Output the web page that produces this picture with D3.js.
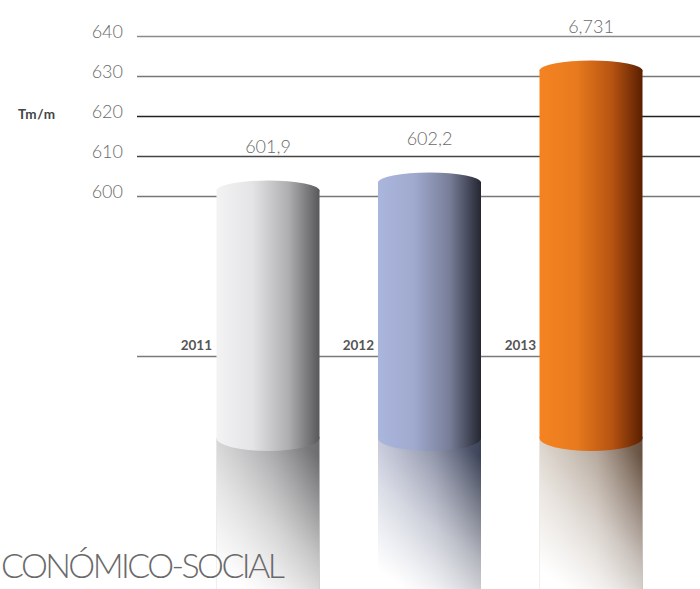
<!DOCTYPE html>
<html>
<head>
<meta charset="utf-8">
<script src="https://cdn.jsdelivr.net/npm/d3@7"></script>
<style>
  body { margin: 0; background: #fff; }
  svg { display: block; }
</style>
</head>
<body>
<script>
// data
var years = ["2011", "2012", "2013"];
var valueLabels = ["601,9", "602,2", "6,731"];
// where each cylinder top sits against the axis (the drawing is not to scale)
var barLevels = [601.5, 603.5, 631.5];
var tickValues = [600, 610, 620, 630, 640];
var baseLevel = 560;   // line carrying the year labels
var floorLevel = 540;  // foot of the cylinders
var unitLabel = "Tm/m";
var footerText = "CONÓMICO-SOCIAL";

var width = 700, height = 589;
var barWidth = 103;

var svg = d3.select("body").append("svg")
    .attr("width", width)
    .attr("height", height);

var yScale = d3.scaleLinear()
    .domain([floorLevel, 640])
    .range([436.5, 36.5]);

var xScale = d3.scalePoint()
    .domain(years)
    .range([268, 591]);

// year labels sit just left of each cylinder
var yearScale = d3.scalePoint()
    .domain(years)
    .range([212, 536]);

// gradients
var barColors = [
    ["#f3f3f4", "#e4e4e6", "#aeaeb1", "#58585b"],
    ["#abb6dd", "#a0aacf", "#777d97", "#242631"],
    ["#f58321", "#e97b1e", "#b75412", "#5a1f00"]
];
var reflColors = [
    ["#c2c2c4", "#9a9a9c", "#6c6c6e"],
    ["#a9afc7", "#7a8099", "#3c4256"],
    ["#cbc0b3", "#a8988a", "#665040"]
];

var defs = svg.append("defs");
barColors.forEach(function(c, i) {
    var g = defs.append("linearGradient")
        .attr("id", "bar" + i)
        .attr("x1", 0).attr("x2", 1).attr("y1", 0).attr("y2", 0);
    [0, 0.35, 0.7, 1].forEach(function(o, j) {
        g.append("stop").attr("offset", o).attr("stop-color", c[j]);
    });
});
reflColors.forEach(function(c, i) {
    var g = defs.append("linearGradient")
        .attr("id", "refl" + i)
        .attr("x1", 0).attr("x2", 1).attr("y1", 0).attr("y2", 0);
    [0, 0.55, 1].forEach(function(o, j) {
        g.append("stop").attr("offset", o).attr("stop-color", c[j]);
    });
});
var fade = defs.append("linearGradient")
    .attr("id", "fade")
    .attr("x1", 0.75).attr("y1", 0).attr("x2", 0.25).attr("y2", 1);
fade.append("stop").attr("offset", 0).attr("stop-color", "#fff").attr("stop-opacity", 0);
fade.append("stop").attr("offset", 0.55).attr("stop-color", "#fff").attr("stop-opacity", 0.6);
fade.append("stop").attr("offset", 1).attr("stop-color", "#fff").attr("stop-opacity", 1);

// grid lines
var gridColors = { 640: "#8a8a8a", 630: "#777", 620: "#222", 610: "#444", 600: "#777" };
svg.append("g").selectAll("line")
    .data(tickValues.concat([baseLevel]))
    .enter().append("line")
    .attr("x1", 137).attr("x2", width)
    .attr("y1", function(d) { return yScale(d); })
    .attr("y2", function(d) { return yScale(d); })
    .attr("stroke", function(d) { return gridColors[d] || "#7a7a7a"; })
    .attr("stroke-width", 1.3);

// tick labels
svg.append("g").selectAll("text")
    .data(tickValues)
    .enter().append("text")
    .attr("x", 123)
    .attr("y", function(d) { return yScale(d) + 1.5; })
    .attr("text-anchor", "end")
    .attr("font-family", "Lato")
    .attr("font-weight", 300)
    .attr("font-size", 18)
    .attr("fill", "#6a6a6a")
    .text(function(d) { return d; });

svg.append("text")
    .attr("x", 18).attr("y", 119)
    .attr("font-family", "Lato")
    .attr("font-weight", 700)
    .attr("font-size", 13.5)
    .attr("letter-spacing", 0.6)
    .attr("fill", "#444")
    .text(unitLabel);

// year labels
svg.append("g").selectAll("text")
    .data(years)
    .enter().append("text")
    .attr("x", function(d) { return yearScale(d); })
    .attr("y", yScale(baseLevel) - 6.5)
    .attr("text-anchor", "end")
    .attr("font-family", "Lato")
    .attr("font-weight", 700)
    .attr("font-size", 13.5)
    .attr("fill", "#555")
    .text(function(d) { return d; });

// reflections
var footY = yScale(floorLevel) + 1.5;
var refl = svg.append("g").selectAll("g")
    .data(years)
    .enter().append("g");
refl.append("rect")
    .attr("x", function(d) { return xScale(d) - barWidth / 2; })
    .attr("y", footY)
    .attr("width", barWidth)
    .attr("height", height - footY)
    .attr("fill", function(d, i) { return "url(#refl" + i + ")"; });
refl.append("rect")
    .attr("x", function(d) { return xScale(d) - barWidth / 2; })
    .attr("y", footY)
    .attr("width", barWidth)
    .attr("height", height - footY)
    .attr("fill", "url(#fade)");

// cylinders
var bars = svg.append("g").selectAll("g")
    .data(years)
    .enter().append("g");
bars.append("rect")
    .attr("x", function(d) { return xScale(d) - barWidth / 2; })
    .attr("y", function(d, i) { return yScale(barLevels[i]); })
    .attr("width", barWidth)
    .attr("height", function(d, i) { return footY - yScale(barLevels[i]); })
    .attr("fill", function(d, i) { return "url(#bar" + i + ")"; });
bars.append("ellipse")
    .attr("cx", function(d) { return xScale(d); })
    .attr("cy", footY)
    .attr("rx", barWidth / 2)
    .attr("ry", 13)
    .attr("fill", function(d, i) { return "url(#bar" + i + ")"; });
bars.append("ellipse")
    .attr("cx", function(d) { return xScale(d); })
    .attr("cy", function(d, i) { return yScale(barLevels[i]); })
    .attr("rx", barWidth / 2)
    .attr("ry", 10)
    .attr("fill", function(d, i) { return "url(#bar" + i + ")"; });

// value labels
svg.append("g").selectAll("text")
    .data(years)
    .enter().append("text")
    .attr("x", function(d) { return xScale(d); })
    .attr("y", function(d, i) { return yScale(barLevels[i]) - 38; })
    .attr("text-anchor", "middle")
    .attr("font-family", "Lato")
    .attr("font-weight", 300)
    .attr("font-size", 18)
    .attr("fill", "#6a6a6a")
    .text(function(d, i) { return valueLabels[i]; });

// footer
svg.append("text")
    .attr("x", 1).attr("y", 578)
    .attr("textLength", 284)
    .attr("font-family", "Lato")
    .attr("font-weight", 300)
    .attr("font-size", 34)
    .attr("fill", "#6a6a6a")
    .text(footerText);
</script>
</body>
</html>
